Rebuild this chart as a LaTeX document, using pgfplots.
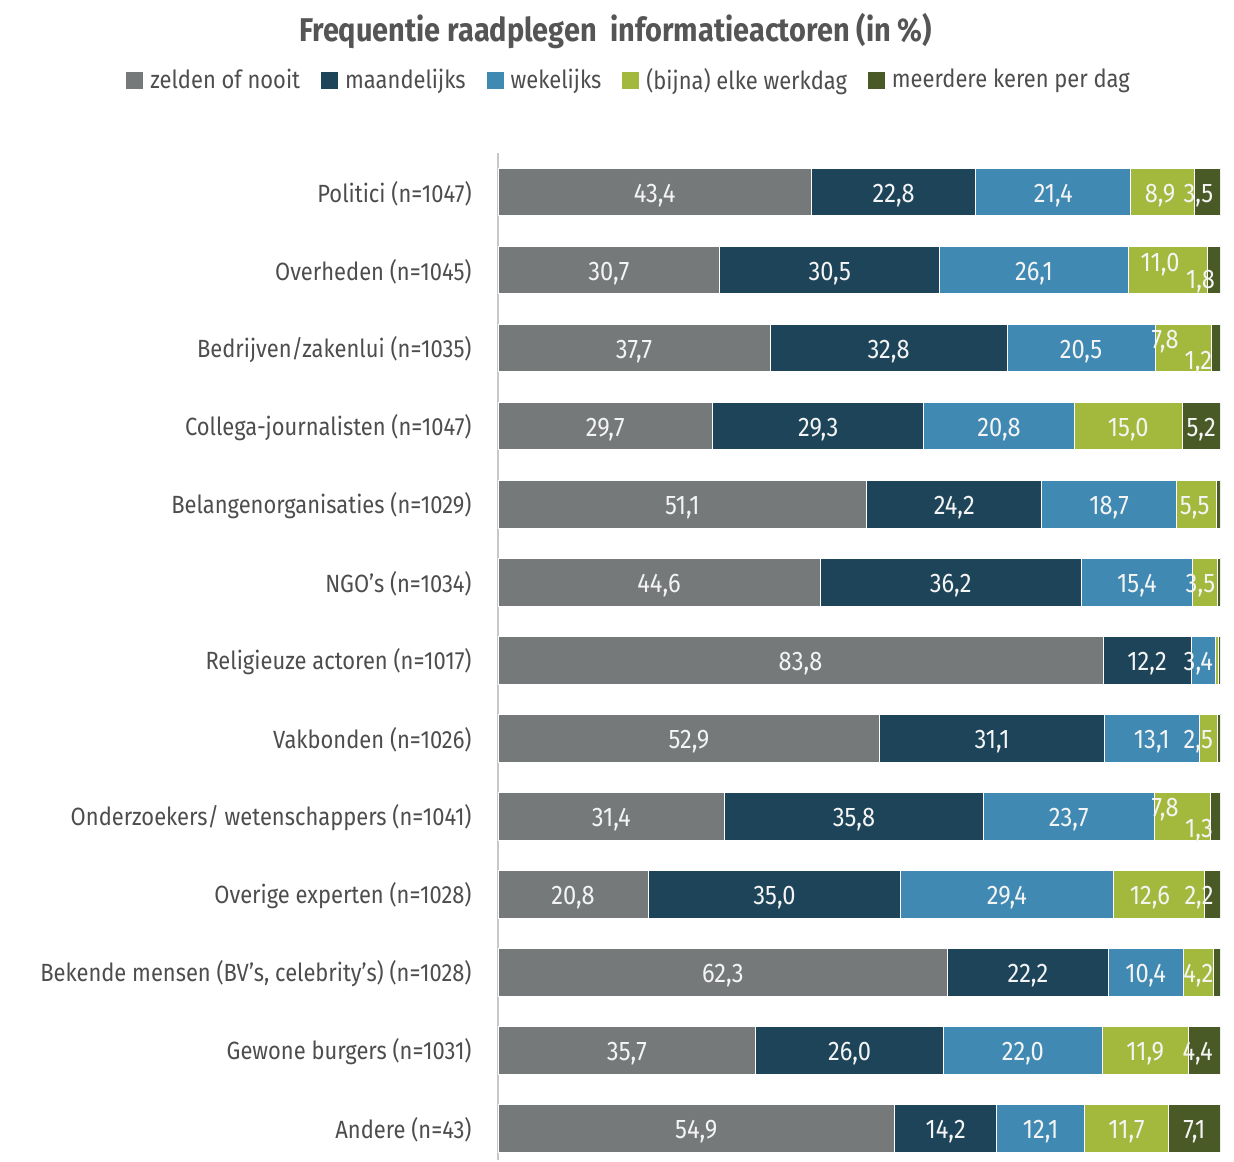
\documentclass[border=0pt]{standalone}
\usepackage{fontspec}
\setmainfont{Fira Sans}[FakeStretch=0.88]
\usepackage{pgfplots}
\usepackage{pgfplotstable}
\pgfplotsset{compat=1.18}
\definecolor{cGray}{HTML}{76797A}
\definecolor{cNavy}{HTML}{1D4459}
\definecolor{cBlue}{HTML}{3F89B3}
\definecolor{cLime}{HTML}{A2B93D}
\definecolor{cOlive}{HTML}{4A5A26}
\definecolor{cText}{HTML}{4D4D4D}
\definecolor{cTitle}{HTML}{555555}
\definecolor{cLab}{HTML}{F4F4F4}
\definecolor{cAxis}{HTML}{C8C8C8}

\pgfplotstableread[row sep=\\]{
y a b c d e\\
0 43.4 22.8 21.4 8.9 3.5\\
1 30.7 30.5 26.1 11.0 1.8\\
2 37.7 32.8 20.5 7.8 1.2\\
3 29.7 29.3 20.8 15.0 5.2\\
4 51.1 24.2 18.7 5.5 0.5\\
5 44.6 36.2 15.4 3.5 0.3\\
6 83.8 12.2 3.4 0.4 0.2\\
7 52.9 31.1 13.1 2.5 0.4\\
8 31.4 35.8 23.7 7.8 1.3\\
9 20.8 35.0 29.4 12.6 2.2\\
10 62.3 22.2 10.4 4.2 0.9\\
11 35.7 26.0 22.0 11.9 4.4\\
12 54.9 14.2 12.1 11.7 7.1\\
}\datatable

\pgfplotstableread[row sep=\\]{
x y lab\\
21.7 0 43,4\\ 54.8 0 22,8\\ 76.9 0 21,4\\ 91.7 0 8,9\\ 97.0 0 3,5\\
15.35 1 30,7\\ 45.95 1 30,5\\ 74.25 1 26,1\\ 91.7 0.88 11,0\\ 97.3 1.1 1,8\\
18.85 2 37,7\\ 54.1 2 32,8\\ 80.75 2 20,5\\ 92.4 1.87 7,8\\ 97.0 2.13 1,2\\
14.85 3 29,7\\ 44.35 3 29,3\\ 69.4 3 20,8\\ 87.3 3 15,0\\ 97.4 3 5,2\\
25.55 4 51,1\\ 63.2 4 24,2\\ 84.65 4 18,7\\ 96.5 4 5,5\\
22.3 5 44,6\\ 62.7 5 36,2\\ 88.5 5 15,4\\ 97.3 5 3,5\\
41.9 6 83,8\\ 89.9 6 12,2\\ 97.0 6 3,4\\
26.45 7 52,9\\ 68.45 7 31,1\\ 90.55 7 13,1\\ 97.0 7 2,5\\
15.7 8 31,4\\ 49.3 8 35,8\\ 79.05 8 23,7\\ 92.4 7.87 7,8\\ 97.1 8.13 1,3\\
10.4 9 20,8\\ 38.3 9 35,0\\ 70.5 9 29,4\\ 90.3 9 12,6\\ 97.1 9 2,2\\
31.15 10 62,3\\ 73.4 10 22,2\\ 89.7 10 10,4\\ 97.0 10 4,2\\
17.85 11 35,7\\ 48.7 11 26,0\\ 72.7 11 22,0\\ 89.65 11 11,9\\ 96.9 11 4,4\\
27.45 12 54,9\\ 62.0 12 14,2\\ 75.15 12 12,1\\ 87.05 12 11,7\\ 96.45 12 7,1\\
}\labtable

\pgfplotsset{
  mybar/.style={fill=#1, draw=white, line width=0.5pt,
    legend image code/.code={\fill[#1] (0bp,-4bp) rectangle (8bp,4bp);}},
  common/.style={
    at={(249bp,1bp)}, anchor=south west,
    scale only axis, width=361bp, height=503.5bp,
    xmin=0, xmax=100, ymin=-0.5, ymax=12.41, y dir=reverse,
  }
}

\begin{document}
\begin{tikzpicture}
\path (0,0) rectangle (617bp,581bp);
\begin{axis}[common,
  xbar stacked, bar width=0.615,
  axis x line=none,
  axis y line*=left,
  y axis line style={draw=cAxis, line width=0.8pt, -},
  ytick={0,...,12},
  yticklabels={Politici (n=1047),Overheden (n=1045),Bedrijven/zakenlui (n=1035),Collega-journalisten (n=1047),Belangenorganisaties (n=1029),NGO's (n=1034),Religieuze actoren (n=1017),Vakbonden (n=1026),Onderzoekers/ wetenschappers (n=1041),Overige experten (n=1028),{Bekende mensen (BV's, celebrity's) (n=1028)},Gewone burgers (n=1031),Andere (n=43)},
  ytick style={draw=none},
  yticklabel style={font=\fontsize{12.5}{14}\selectfont, text=cText, inner sep=0pt, xshift=-13bp, yshift=-0.8bp},
  legend columns=5,
  legend style={draw=none, fill=none, at={(0.185,1.0725)}, anchor=center,
    font=\fontsize{12.5}{14}\selectfont, text=cText,
    nodes={inner xsep=3.5bp},
    /tikz/every even column/.append style={column sep=7bp}},
  title={Frequentie raadplegen\ \ informatieactoren (in \%)},
  title style={at={(0.163,1.109)}, anchor=center, font=\bfseries\fontsize{16.5}{19}\selectfont, text=cTitle},
]
\addplot[mybar=cGray] table[x=a,y=y] {\datatable};
\addplot[mybar=cNavy] table[x=b,y=y] {\datatable};
\addplot[mybar=cBlue] table[x=c,y=y] {\datatable};
\addplot[mybar=cLime] table[x=d,y=y] {\datatable};
\addplot[mybar=cOlive] table[x=e,y=y] {\datatable};
\legend{zelden of nooit, maandelijks, wekelijks, (bijna) elke werkdag, meerdere keren per dag}
\end{axis}
\begin{axis}[common, hide axis]
\addplot[draw=none, mark=none, nodes near coords, point meta=explicit symbolic,
  nodes near coords align={center},
  nodes near coords style={font=\fontsize{13.5}{15}\selectfont, text=cLab, inner sep=0pt, yshift=-2bp}]
  table[x=x,y=y,meta=lab] {\labtable};
\end{axis}
\end{tikzpicture}
\end{document}
